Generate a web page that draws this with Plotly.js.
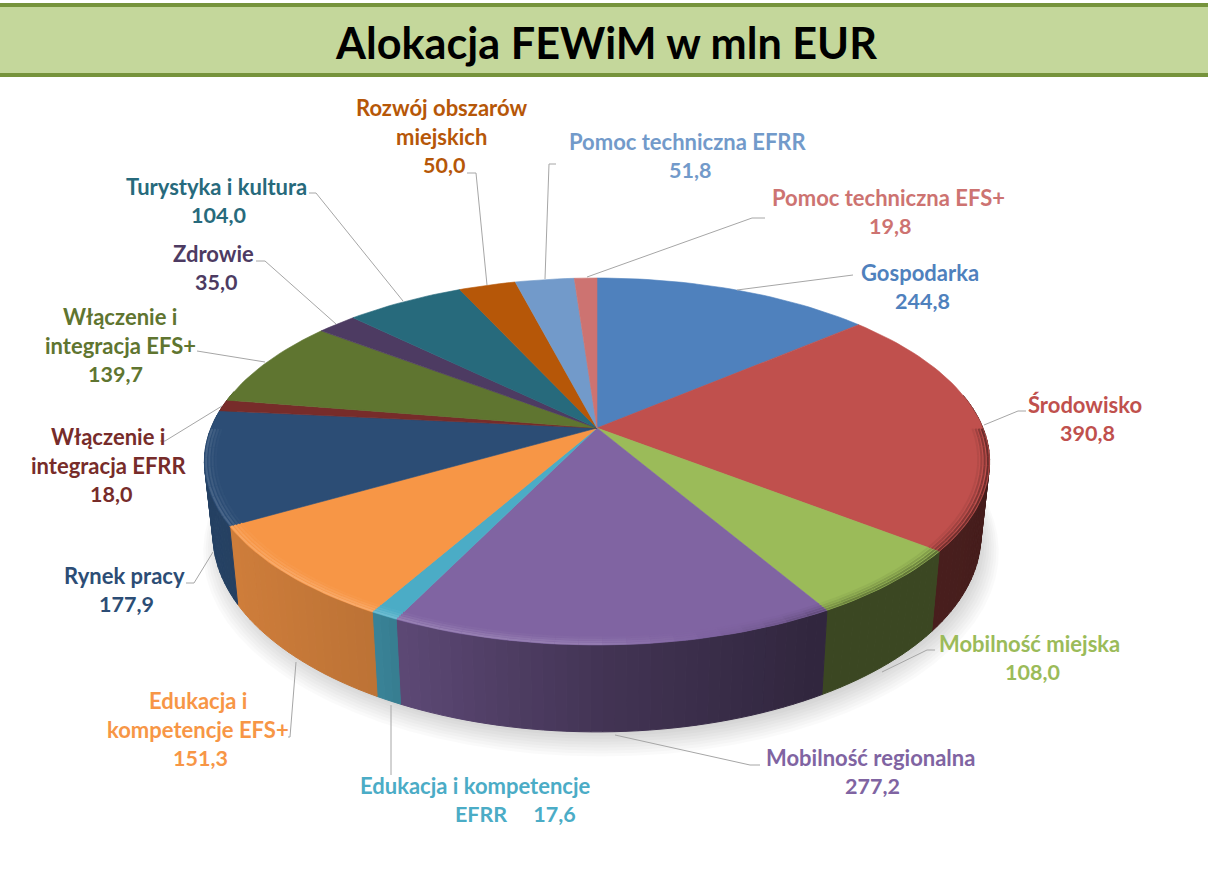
<!DOCTYPE html>
<html><head><meta charset="utf-8">
<script src="https://cdn.plot.ly/plotly-3.0.1.min.js"></script>
<style>html,body{margin:0;padding:0;background:#fff}</style></head>
<body><div id="chart" style="width:1208px;height:871px"></div>
<script>
const categories = ["Gospodarka","Środowisko","Mobilność miejska","Mobilność regionalna","Edukacja i kompetencje EFRR","Edukacja i kompetencje EFS+","Rynek pracy","Włączenie i integracja EFRR","Włączenie i integracja EFS+","Zdrowie","Turystyka i kultura","Rozwój obszarów miejskich","Pomoc techniczna EFRR","Pomoc techniczna EFS+"];
const values = [244.8,390.8,108.0,277.2,17.6,151.3,177.9,18.0,139.7,35.0,104.0,50.0,51.8,19.8];
const colors = ["#4F81BD","#C0504D","#9BBB59","#8064A2","#4BACC6","#F79646","#2C4D75","#772C2A","#5F7530","#4D3B62","#276A7C","#B65708","#729ACA","#CD7371"];
const labelLines = [["Gospodarka"],["Środowisko"],["Mobilność miejska"],["Mobilność regionalna"],["Edukacja i kompetencje"],["Edukacja i","kompetencje EFS+"],["Rynek pracy"],["Włączenie i","integracja EFRR"],["Włączenie i","integracja EFS+"],["Zdrowie"],["Turystyka i kultura"],["Rozwój obszarów","miejskich"],["Pomoc techniczna EFRR"],["Pomoc techniczna EFS+"]];
const labelX = [920,1085,1029,870,475,198,124,108,120,213,216,441,687,888];
const labelY = [272,404,643,757,785,700,575,436,316,253,186,107,141,197];
const valueX = [922,1087,1032,872,515,200,126,111,115,216,218,444,690,890];
const leaders = [
 [[737,290],[853,275]],[[984,425],[1018,411],[1026,411]],[[882,672],[927,650],[935,650]],
 [[615,735],[750,765],[760,765]],[[391,705],[391,775]],[[296,662],[290,737],[288,737]],
 [[213,552],[194,583],[186,583]],[[222,406],[165,441],[160,441]],[[265,362],[197,351]],
 [[336,324],[265,261],[256,261]],[[403,301],[316,193],[309,193]],[[487,285],[476,173],[467,173]],
 [[545,279],[549,164],[556,164]],[[587,277],[752,218],[765,218]]];

const cx=597, cy=428, a=386, b=177.4, k=0.1826, depth=71, squeeze=0.978;
function topPt(t,r){const u=r*Math.sin(t),v=-r*Math.cos(t),w=1-k*v;return [cx+a*u/w,cy+b*v/w];}
function lowPt(t,r){const u=r*Math.sin(t),v=-r*Math.cos(t),w=1-k*v;return [cx+squeeze*a*u/w,cy+b*v/w+depth/w];}
function lerpTable(xs,ys,x){if(x<=xs[0])return ys[0];for(let i=1;i<xs.length;i++)if(x<=xs[i])return ys[i-1]+(ys[i]-ys[i-1])*(x-xs[i-1])/(xs[i]-xs[i-1]);return ys[ys.length-1];}
function rgb(h){return [1,3,5].map(i=>parseInt(h.substr(i,2),16));}
function shade(h,f){return 'rgb('+rgb(h).map(c=>Math.round(c*f)).join(',')+')';}
function mix(h,f){ // f>0 toward white, f<0 toward black
  return 'rgb('+rgb(h).map(c=>Math.round(f>0?c+(255-c)*f:c*(1+f))).join(',')+')';}
const wallXs=[205,240,375,400,600,820,935,990], wallFs=[.85,.83,.76,.72,.52,.38,.38,.36];
const rimXs=[205,300,600,780,860,990], rimFs=[.12,.2,.16,-.1,-.3,-.45];

const total=values.reduce((s,v)=>s+v,0);
const traces=[];
// soft shadow beneath the pie
for(let s=0;s<9;s++){
  const xs=[],ys=[],r=1.035-s*0.006;
  for(let d=0;d<=360;d+=4){const p=lowPt(d*Math.PI/180,r);xs.push(p[0]+4);ys.push(p[1]+5+(8-s)*1.2);}
  traces.push({type:'scatter',mode:'lines',x:xs,y:ys,fill:'toself',fillcolor:'rgba(0,0,0,0.02)',line:{width:0},hoverinfo:'skip'});
}
const STEP=1.5*Math.PI/180;
let acc=0; const wedges=[];
values.forEach((v,i)=>{const t0=acc/total*2*Math.PI;acc+=v;const t1=acc/total*2*Math.PI;wedges.push([t0,t1]);});
// side walls
wedges.forEach(([t0,t1],i)=>{
  const n=Math.max(1,Math.ceil((t1-t0)/STEP));
  for(let j=0;j<n;j++){
    const p0=t0+(t1-t0)*j/n,p1=t0+(t1-t0)*(j+1)/n,mid=(p0+p1)/2;
    if(-Math.cos(mid)<-0.2) continue;
    const A=topPt(p0,1),B=topPt(p1,1),C=lowPt(p1,1),D=lowPt(p0,1);
    const c=shade(colors[i],lerpTable(wallXs,wallFs,topPt(mid,1)[0]));
    traces.push({type:'scatter',mode:'lines',x:[A[0],B[0],C[0],D[0],A[0]],y:[A[1],B[1],C[1],D[1],A[1]],fill:'toself',fillcolor:c,line:{color:c,width:1},hoverinfo:'skip'});
  }
});
// top faces
wedges.forEach(([t0,t1],i)=>{
  const xs=[cx],ys=[cy],n=Math.max(2,Math.ceil((t1-t0)/STEP));
  for(let j=0;j<=n;j++){const p=topPt(t0+(t1-t0)*j/n,1);xs.push(p[0]);ys.push(p[1]);}
  xs.push(cx);ys.push(cy);
  traces.push({type:'scatter',mode:'lines',x:xs,y:ys,fill:'toself',fillcolor:colors[i],line:{color:colors[i],width:0.6},name:categories[i],hoverinfo:'skip'});
});
// bevel along the near rim: adjacent strokes fading inward
[[.972,.15],[.98,.4],[.988,.7],[.996,1]].forEach(([r,gain])=>{
  wedges.forEach(([t0,t1],i)=>{
    const n=Math.max(1,Math.ceil((t1-t0)/(STEP*2)));
    for(let j=0;j<n;j++){
      const p0=t0+(t1-t0)*j/n,p1=t0+(t1-t0)*(j+1)/n,mid=(p0+p1)/2;
      if(-Math.cos(mid)<0.02) continue;
      const A=topPt(p0,r),B=topPt(p1,r);
      traces.push({type:'scatter',mode:'lines',x:[A[0],B[0]],y:[A[1],B[1]],line:{color:mix(colors[i],gain*lerpTable(rimXs,rimFs,A[0])),width:2},hoverinfo:'skip'});
    }
  });
});

const fmt=v=>v.toFixed(1).replace('.',',');
const LH=29;
const ann=[];
function txt(x,y,t,c,size){ann.push({xref:'x',yref:'y',x:x,y:y,text:t,showarrow:false,xanchor:'center',yanchor:'middle',font:{family:'Lato, sans-serif',size:size||22,color:c,weight:700}});}
categories.forEach((c,i)=>{
  const lines=labelLines[i];
  lines.forEach((l,j)=>txt(labelX[i],labelY[i]+j*LH,l,colors[i]));
  const vy=labelY[i]+lines.length*LH;
  if(i===4) txt(valueX[i],vy,"EFRR\u00A0\u00A0\u00A0\u00A0\u00A0"+fmt(values[i]),colors[i],21.5);
  else txt(valueX[i],vy,fmt(values[i]),colors[i],21.5);
});
txt(606,42,"Alokacja FEWiM w mln EUR","#000000",43.2);

const shapes=[
 {type:'rect',xref:'paper',yref:'y',x0:0,x1:1,y0:5,y1:75,fillcolor:'#C4D79B',line:{width:0},layer:'below'},
 {type:'rect',xref:'paper',yref:'y',x0:0,x1:1,y0:3,y1:7,fillcolor:'#76933C',line:{width:0},layer:'below'},
 {type:'rect',xref:'paper',yref:'y',x0:0,x1:1,y0:73,y1:77,fillcolor:'#76933C',line:{width:0},layer:'below'}
];
leaders.forEach(pts=>{
  shapes.push({type:'path',xref:'x',yref:'y',path:'M'+pts.map(p=>p.join(',')).join('L'),line:{color:'#A6A6A6',width:1},fillcolor:'rgba(0,0,0,0)'});
});

Plotly.newPlot('chart',traces,{
  width:1208,height:871,margin:{l:0,r:0,t:0,b:0},paper_bgcolor:'#fff',plot_bgcolor:'#fff',showlegend:false,
  xaxis:{range:[0,1208],visible:false,fixedrange:true},
  yaxis:{range:[871,0],visible:false,fixedrange:true},
  annotations:ann,shapes:shapes,hovermode:false
},{displayModeBar:false,staticPlot:true});
</script></body></html>
